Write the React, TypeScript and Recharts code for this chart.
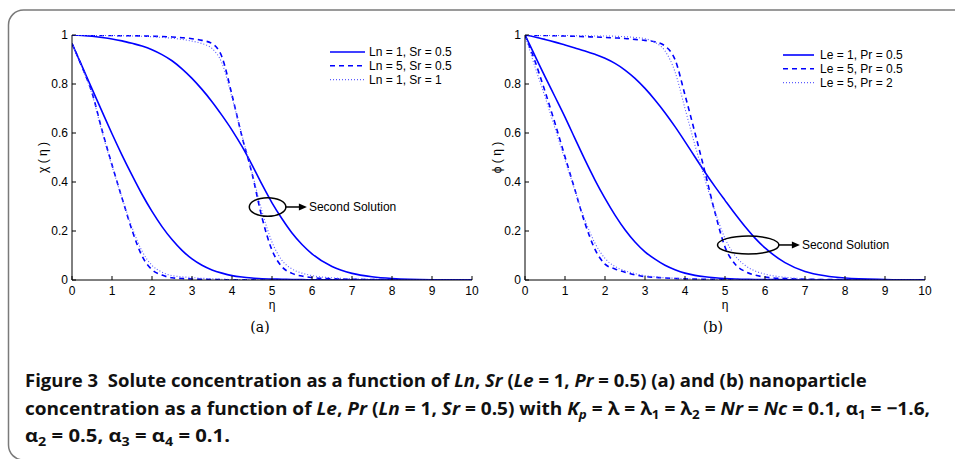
import React from 'react';
import { LineChart, Line, XAxis, YAxis, Legend, ReferenceDot } from 'recharts';

// ---------- data ----------
const eta = [0, 0.25, 0.5, 0.75, 1, 1.25, 1.5, 1.75, 2, 2.25, 2.5, 2.75, 3, 3.25, 3.5, 3.75, 4, 4.25, 4.5, 4.75, 5, 5.25, 5.5, 5.75, 6, 6.5, 7, 7.5, 8, 9, 10];
const xTicks = [0, 1, 2, 3, 4, 5, 6, 7, 8, 9, 10];
const yTicks = [0, 0.2, 0.4, 0.6, 0.8, 1];

// (a) chi(eta)
const chiLabels = ['Ln = 1, Sr = 0.5', 'Ln = 5, Sr = 0.5', 'Ln = 1, Sr = 1'];
const chiLn1Sr05First = [0.965, 0.873, 0.78, 0.688, 0.597, 0.51, 0.428, 0.35, 0.28, 0.218, 0.165, 0.121, 0.086, 0.06, 0.041, 0.028, 0.018, 0.012, 0.008, 0.005, 0.004, 0.003, 0.002, 0.0015, 0.001, 0.0005, 0, 0, 0, 0, 0];
const chiLn5Sr05First = [0.965, 0.87, 0.765, 0.612, 0.47, 0.335, 0.204, 0.098, 0.042, 0.02, 0.009, 0.006, 0.004, 0.003, 0.002, 0.0015, 0.001, 0.001, 0.0005, 0, 0, 0, 0, 0, 0, 0, 0, 0, 0, 0, 0];
const chiLn1Sr1First = [0.965, 0.868, 0.76, 0.605, 0.465, 0.335, 0.215, 0.118, 0.06, 0.032, 0.018, 0.013, 0.01, 0.007, 0.005, 0.003, 0.002, 0.0015, 0.001, 0.0005, 0, 0, 0, 0, 0, 0, 0, 0, 0, 0, 0];
const chiLn1Sr05Second = [1, 0.998, 0.995, 0.99, 0.984, 0.976, 0.966, 0.955, 0.94, 0.92, 0.895, 0.862, 0.823, 0.778, 0.728, 0.672, 0.612, 0.545, 0.47, 0.39, 0.315, 0.25, 0.192, 0.145, 0.107, 0.055, 0.027, 0.013, 0.006, 0.001, 0];
const chiLn5Sr05Second = [1, 0.999, 0.999, 0.998, 0.998, 0.997, 0.997, 0.996, 0.995, 0.994, 0.992, 0.989, 0.985, 0.978, 0.965, 0.91, 0.755, 0.585, 0.435, 0.255, 0.122, 0.054, 0.027, 0.016, 0.01, 0.005, 0.003, 0.002, 0.001, 0, 0];
const chiLn1Sr1Second = [1, 0.999, 0.999, 0.998, 0.998, 0.997, 0.996, 0.995, 0.993, 0.99, 0.987, 0.982, 0.975, 0.965, 0.945, 0.885, 0.745, 0.59, 0.44, 0.28, 0.155, 0.08, 0.045, 0.028, 0.018, 0.009, 0.005, 0.003, 0.002, 0.001, 0];
const chiNote = [4.89, 0.298];

// (b) phi(eta)
const phiLabels = ['Le = 1, Pr = 0.5', 'Le = 5, Pr = 0.5', 'Le = 5, Pr = 2'];
const phiLe1Pr05First = [1, 0.915, 0.83, 0.748, 0.665, 0.577, 0.49, 0.408, 0.333, 0.265, 0.205, 0.155, 0.115, 0.085, 0.06, 0.042, 0.028, 0.019, 0.013, 0.009, 0.006, 0.004, 0.003, 0.002, 0.002, 0.001, 0, 0, 0, 0, 0];
const phiLe5Pr05First = [1, 0.893, 0.77, 0.64, 0.503, 0.367, 0.231, 0.125, 0.065, 0.045, 0.032, 0.021, 0.014, 0.011, 0.008, 0.006, 0.005, 0.004, 0.003, 0.0025, 0.002, 0.0015, 0.001, 0.001, 0.001, 0, 0, 0, 0, 0, 0];
const phiLe5Pr2First = [1, 0.87, 0.748, 0.62, 0.49, 0.365, 0.245, 0.15, 0.088, 0.055, 0.038, 0.026, 0.018, 0.013, 0.009, 0.007, 0.005, 0.004, 0.003, 0.0025, 0.002, 0.0015, 0.001, 0.001, 0.001, 0, 0, 0, 0, 0, 0];
const phiLe1Pr05Second = [1, 0.992, 0.982, 0.971, 0.959, 0.947, 0.935, 0.921, 0.905, 0.884, 0.857, 0.823, 0.782, 0.735, 0.683, 0.626, 0.565, 0.502, 0.44, 0.381, 0.325, 0.27, 0.218, 0.171, 0.131, 0.071, 0.035, 0.017, 0.008, 0.002, 0];
const phiLe5Pr05Second = [1, 0.999, 0.998, 0.997, 0.996, 0.995, 0.993, 0.992, 0.99, 0.988, 0.986, 0.982, 0.978, 0.972, 0.955, 0.9, 0.755, 0.6, 0.44, 0.275, 0.135, 0.065, 0.035, 0.02, 0.012, 0.006, 0.003, 0.002, 0.001, 0, 0];
const phiLe5Pr2Second = [1, 0.999, 0.999, 0.998, 0.998, 0.997, 0.997, 0.996, 0.996, 0.995, 0.993, 0.99, 0.985, 0.97, 0.935, 0.85, 0.7, 0.55, 0.41, 0.28, 0.17, 0.1, 0.06, 0.037, 0.024, 0.011, 0.005, 0.002, 0.001, 0, 0];
const phiNote = [5.58, 0.143];

// ---------- styles ----------
const SANS = "'Liberation Sans', Arial, Helvetica, sans-serif";
const BLUE = '#0000ff';
const lineStyles = [
  { stroke: BLUE, width: 1.6, dash: undefined as string | undefined },
  { stroke: BLUE, width: 1.6, dash: '5 4' },
  { stroke: '#5c5cff', width: 1.1, dash: '1 2' },
];

const toPts = (vals: number[]) => eta.map((x, i) => ({ x, y: vals[i] }));

type PanelProps = {
  left: number;
  yAxisWidth: number;
  rightMargin: number;
  labels: string[];
  first: number[][];
  second: number[][];
  yLabel: string;
  yLabelX: number;
  legendLeft: number;
  legendTop: number;
  legendLine: number;
  legendTextX: number;
  legendGap: number;
  note: number[];
  noteRx: number;
  noteRy: number;
};

function Panel(p: PanelProps) {
  const legendContent = () => (
    <svg width={150} height={46} style={{ display: 'block', overflow: 'visible' }}>
      {p.labels.map((n, i) => {
        const y = 7 + i * p.legendGap;
        const s = lineStyles[i];
        return (
          <g key={n}>
            <line x1={0} x2={p.legendLine} y1={y} y2={y} stroke={s.stroke} strokeWidth={s.width} strokeDasharray={s.dash} />
            <text x={p.legendTextX} y={y} dominantBaseline="central" fontSize={12} fontFamily={SANS} fill="#000">{n}</text>
          </g>
        );
      })}
    </svg>
  );

  const xLabel = (props: any) => {
    const vb = props.viewBox || {};
    return (
      <text x={vb.x + vb.width / 2} y={vb.y + 29} textAnchor="middle" fontSize={12} fontFamily={SANS} fill="#000">η</text>
    );
  };
  const yLabelContent = (props: any) => {
    const vb = props.viewBox || {};
    const x = vb.x + p.yLabelX;
    const cy = vb.y + vb.height / 2;
    return (
      <text x={x} y={cy} transform={`rotate(-90 ${x} ${cy})`} textAnchor="middle" dominantBaseline="central" fontSize={12} fontFamily={SANS} fill="#000">{p.yLabel}</text>
    );
  };

  const noteShape = (props: any) => {
    const { cx, cy } = props;
    const ax0 = cx + p.noteRx;
    const ax1 = ax0 + 21;
    return (
      <g>
        <ellipse cx={cx} cy={cy} rx={p.noteRx} ry={p.noteRy} fill="none" stroke="#000" strokeWidth={1.5} />
        <line x1={ax0} y1={cy} x2={ax1 - 6} y2={cy} stroke="#000" strokeWidth={1.5} />
        <path d={`M ${ax1} ${cy} L ${ax1 - 8} ${cy - 3.5} L ${ax1 - 8} ${cy + 3.5} Z`} fill="#000" />
        <text x={ax1 + 2} y={cy} dominantBaseline="central" fontSize={12} fontFamily={SANS} fill="#000">Second Solution</text>
      </g>
    );
  };

  const axisTick = { fill: '#000', fontSize: 12, fontFamily: SANS };

  return (
    <div style={{ position: 'absolute', left: p.left, top: 0, width: 480, height: 320 }}>
      <LineChart width={480} height={320} margin={{ top: 35, right: p.rightMargin, bottom: 0, left: 0 }}>
        <XAxis xAxisId={0} type="number" dataKey="x" domain={[0, 10]} ticks={xTicks} interval={0} allowDataOverflow
          height={40} tickSize={-4} tickMargin={10} stroke="#000" tick={axisTick} label={{ content: xLabel }} />
        <XAxis xAxisId="top" orientation="top" type="number" dataKey="x" domain={[0, 10]} ticks={xTicks} interval={0} allowDataOverflow
          height={0} tickSize={-4} tick={false} stroke="#000" />
        <YAxis yAxisId={0} type="number" domain={[0, 1]} ticks={yTicks} interval={0} allowDataOverflow
          width={p.yAxisWidth} tickSize={-4} tickMargin={8} stroke="#000" tick={axisTick} tickFormatter={(v: number) => String(v)}
          label={{ content: yLabelContent }} />
        <YAxis yAxisId="right" orientation="right" type="number" domain={[0, 1]} ticks={yTicks} interval={0} allowDataOverflow
          width={0} tickSize={-4} tick={false} stroke="#000" />
        {p.second.map((vals, i) => (
          <Line key={'s' + i} data={toPts(vals)} dataKey="y" xAxisId={0} yAxisId={0} type="monotone" name={p.labels[i] + ' (2nd)'}
            stroke={lineStyles[i].stroke} strokeWidth={lineStyles[i].width} strokeDasharray={lineStyles[i].dash}
            dot={false} activeDot={false} isAnimationActive={false} legendType="none" />
        ))}
        {p.first.map((vals, i) => (
          <Line key={'f' + i} data={toPts(vals)} dataKey="y" xAxisId={0} yAxisId={0} type="monotone" name={p.labels[i]}
            stroke={lineStyles[i].stroke} strokeWidth={lineStyles[i].width} strokeDasharray={lineStyles[i].dash}
            dot={false} activeDot={false} isAnimationActive={false} />
        ))}
        <ReferenceDot xAxisId={0} yAxisId={0} x={p.note[0]} y={p.note[1]} r={1} shape={noteShape} />
        <Legend layout="vertical" align="center" verticalAlign="middle" content={legendContent}
          wrapperStyle={{ left: p.legendLeft, top: p.legendTop, width: 150, height: 46 }} />
      </LineChart>
    </div>
  );
}

// ---------- caption ----------
type Seg = [string, string?];
const captionLines: { y: number; len: number; segs: Seg[] }[] = [
  {
    y: 386.7, len: 841.7, segs: [
      ['Figure 3  Solute concentration as a function of '], ['Ln', 'i'], [', '], ['Sr', 'i'], [' ('], ['Le', 'i'], [' = 1, '], ['Pr', 'i'], [' = 0.5) (a) and (b) nanoparticle'],
    ],
  },
  {
    y: 415, len: 905, segs: [
      ['concentration as a function of '], ['Le', 'i'], [', '], ['Pr', 'i'], [' ('], ['Ln', 'i'], [' = 1, '], ['Sr', 'i'], [' = 0.5) with '],
      ['K', 'i'], ['p', 'is'], [' = λ = λ'], ['1', 's'], [' = λ'], ['2', 's'], [' = '], ['Nr', 'i'], [' = '], ['Nc', 'i'], [' = 0.1, α'], ['1', 's'], [' = −1.6,'],
    ],
  },
  {
    y: 441.7, len: 205, segs: [
      ['α'], ['2', 's'], [' = 0.5, α'], ['3', 's'], [' = α'], ['4', 's'], [' = 0.1.'],
    ],
  },
];

function CaptionLine({ y, len, segs }: { y: number; len: number; segs: Seg[] }) {
  let inSub = false;
  return (
    <text x={25} y={y} textLength={len} lengthAdjust="spacingAndGlyphs" style={{ whiteSpace: 'pre' }}
      fontFamily="'Open Sans', 'Noto Sans', sans-serif" fontWeight={700} fontSize={18.5} fill="#111">
      {segs.map(([t, f], i) => {
        const sub = !!f && f.includes('s');
        const ital = !!f && f.includes('i');
        let dy = 0;
        if (sub && !inSub) dy = 4;
        if (!sub && inSub) dy = -4;
        inSub = sub;
        return (
          <tspan key={i} dy={dy || undefined} fontStyle={ital ? 'italic' : undefined} fontSize={sub ? 13 : undefined}>{t}</tspan>
        );
      })}
    </text>
  );
}

export default function App() {
  return (
    <div style={{ position: 'absolute', left: 0, top: 0, width: 955, height: 459, background: '#fff', overflow: 'hidden' }}>
      <svg width={955} height={459} style={{ position: 'absolute', left: 0, top: 0 }}>
        <rect x={8.5} y={10} width={1100} height={450} rx={15} ry={15} fill="none" stroke="#7a7a7a" strokeWidth={1.5} />
        <text x={260} y={332} textAnchor="middle" fontSize={14} fontFamily="'DejaVu Serif', 'Liberation Serif', serif" fill="#000">(a)</text>
        <text x={713} y={332} textAnchor="middle" fontSize={14} fontFamily="'DejaVu Serif', 'Liberation Serif', serif" fill="#000">(b)</text>
        {captionLines.map((l, i) => <CaptionLine key={i} {...l} />)}
      </svg>
      <Panel left={0} yAxisWidth={72} rightMargin={8} labels={chiLabels}
        first={[chiLn1Sr05First, chiLn5Sr05First, chiLn1Sr1First]}
        second={[chiLn1Sr05Second, chiLn5Sr05Second, chiLn1Sr1Second]}
        yLabel="χ ( η )" yLabelX={43}
        legendLeft={330} legendTop={44.7} legendLine={35} legendTextX={39} legendGap={13.8}
        note={chiNote} noteRx={18.3} noteRy={9.3} />
      <Panel left={475} yAxisWidth={50} rightMargin={30} labels={phiLabels}
        first={[phiLe1Pr05First, phiLe5Pr05First, phiLe5Pr2First]}
        second={[phiLe1Pr05Second, phiLe5Pr05Second, phiLe5Pr2Second]}
        yLabel="ϕ ( η )" yLabelX={21.7}
        legendLeft={308.3} legendTop={48} legendLine={31} legendTextX={37} legendGap={13.8}
        note={phiNote} noteRx={30.7} noteRy={9} />
    </div>
  );
}
